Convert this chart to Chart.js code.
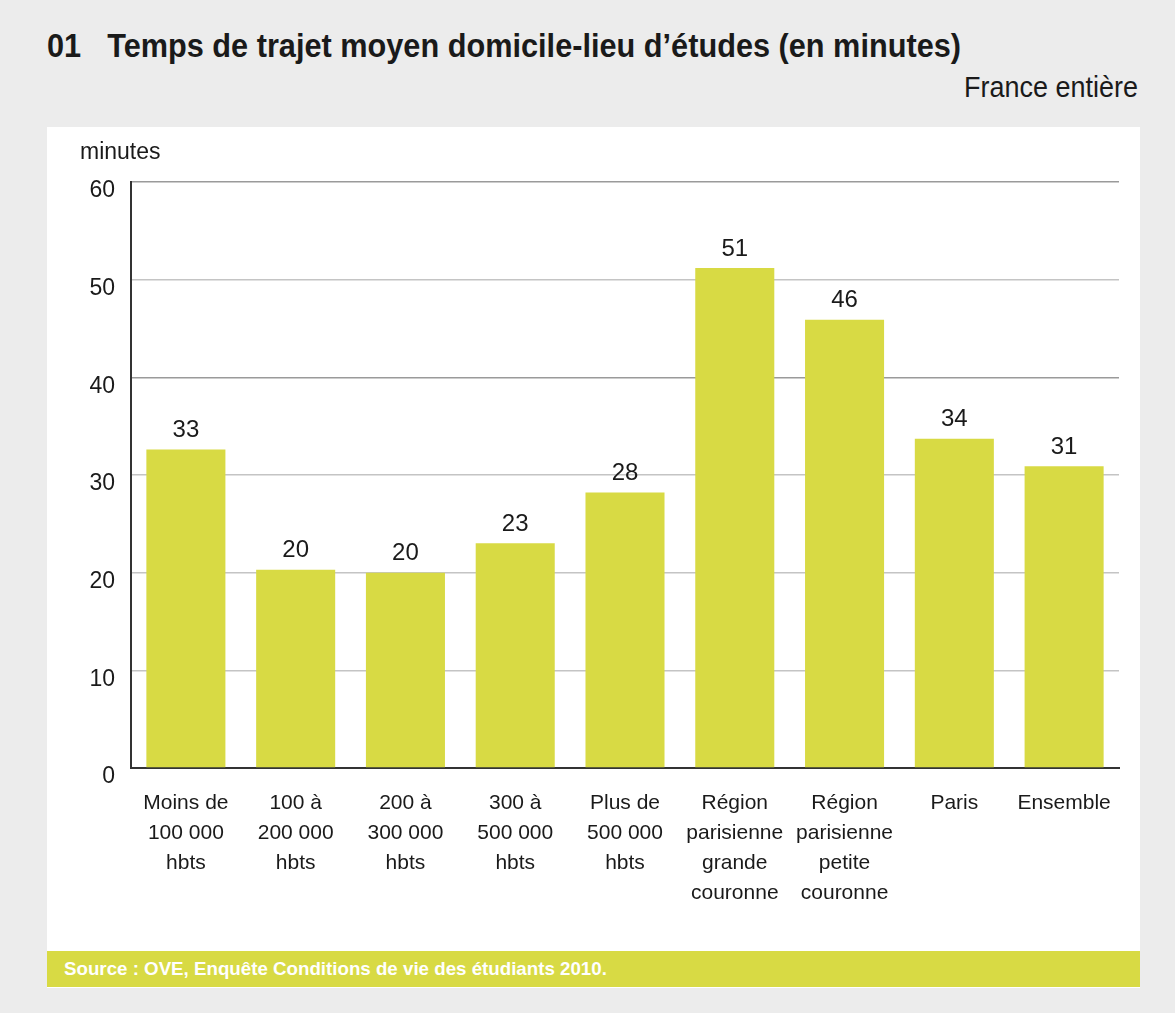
<!DOCTYPE html>
<html>
<head>
<meta charset="utf-8">
<script src="https://cdn.jsdelivr.net/npm/chart.js@4.4.0/dist/chart.umd.min.js"></script>
<style>
  html, body { margin: 0; padding: 0; }
  body {
    width: 1175px; height: 1013px; background: #ececec; position: relative;
    font-family: "Liberation Sans Narrow", "Liberation Sans", Arial, sans-serif; color: #1a1a1a;
    overflow: hidden;
  }
  #title {
    position: absolute; left: 47px; top: 27px; font-size: 33px; font-weight: bold; white-space: nowrap;
    transform: scaleX(0.93); transform-origin: left center;
  }
  #title span { margin-right: 28px; }
  #zone {
    position: absolute; right: 37px; top: 71px; font-size: 29px; white-space: nowrap;
    transform: scaleX(0.93); transform-origin: right center;
  }
  #panel { position: absolute; left: 47px; top: 127px; width: 1093px; height: 824px; background: #fff; }
  #unit { position: absolute; left: 33px; top: 11px; font-size: 23px; }
  #wrap { position: absolute; left: 0; top: 0; width: 1093px; height: 824px; }
  #source {
    position: absolute; left: 47px; top: 951px; width: 1093px; height: 37px; background: #d8da44;
    border-bottom: 1px solid #fff;
    color: #fff; font-weight: bold; font-size: 19px; line-height: 36px; box-sizing: border-box; padding-left: 17px;
    white-space: nowrap;
  }
  #source span { display: inline-block; transform: scaleX(0.985); transform-origin: left center; }
</style>
</head>
<body>
<div id="title"><span>01</span>Temps de trajet moyen domicile-lieu d’études (en minutes)</div>
<div id="zone">France entière</div>
<div id="panel">
  <div id="wrap"><canvas id="myChart"></canvas></div>
  <div id="unit">minutes</div>
</div>
<div id="source"><span>Source : OVE, Enquête Conditions de vie des étudiants 2010.</span></div>

<script>
var categories = [
  ['Moins de', '100 000', 'hbts'],
  ['100 à', '200 000', 'hbts'],
  ['200 à', '300 000', 'hbts'],
  ['300 à', '500 000', 'hbts'],
  ['Plus de', '500 000', 'hbts'],
  ['Région', 'parisienne', 'grande', 'couronne'],
  ['Région', 'parisienne', 'petite', 'couronne'],
  'Paris',
  'Ensemble'
];
var minutes = [32.6, 20.3, 20.0, 23.0, 28.2, 51.2, 45.9, 33.7, 30.9];
var yTicks = [0, 10, 20, 30, 40, 50, 60];

var fontFamily = '"Liberation Sans Narrow", "Liberation Sans", Arial, sans-serif';

// labels above bars, rounded like the original
var valueLabels = {
  id: 'valueLabels',
  afterDatasetsDraw: function(chart) {
    var ctx = chart.ctx;
    var meta = chart.getDatasetMeta(0);
    ctx.save();
    ctx.font = '24px ' + fontFamily;
    ctx.fillStyle = '#1a1a1a';
    ctx.textAlign = 'center';
    ctx.textBaseline = 'bottom';
    meta.data.forEach(function(bar, i) {
      ctx.fillText(Math.round(minutes[i]), bar.x, bar.y - 7);
    });
    ctx.restore();
  }
};

var ctx = document.getElementById('myChart').getContext('2d');
var myChart = new Chart(ctx, {
  type: 'bar',
  data: {
    labels: categories,
    datasets: [{
      data: minutes,
      backgroundColor: '#d8da44',
      borderWidth: 0,
      categoryPercentage: 0.72,
      barPercentage: 1
    }]
  },
  options: {
    responsive: true,
    maintainAspectRatio: false,
    animation: false,
    layout: { padding: { top: 55, right: 21, bottom: 0, left: 0 } },
    plugins: {
      legend: { display: false },
      tooltip: { enabled: false }
    },
    scales: {
      x: {
        grid: { display: false, drawTicks: false },
        border: { color: '#333', width: 2 },
        ticks: {
          color: '#1a1a1a',
          padding: 20,
          maxRotation: 0,
          autoSkip: false,
          font: { family: fontFamily, size: 21, lineHeight: 1.43 }
        },
        afterFit: function(s) { s.height = 183; }
      },
      y: {
        min: 0,
        max: 60,
        afterBuildTicks: function(s) { s.ticks = yTicks.map(function(v) { return { value: v }; }); },
        grid: {
          drawTicks: false,
          color: function(c) { return (c.tick && (c.tick.value === 60 || c.tick.value === 40)) ? '#9a9a9a' : '#c4c4c4'; },
          lineWidth: 1.5
        },
        border: { color: '#333', width: 2 },
        ticks: {
          color: '#1a1a1a',
          padding: 16,
          labelOffset: 9,
          font: { family: fontFamily, size: 23 }
        },
        afterFit: function(s) { s.width = 84; }
      }
    }
  },
  plugins: [valueLabels]
});
</script>
</body>
</html>
